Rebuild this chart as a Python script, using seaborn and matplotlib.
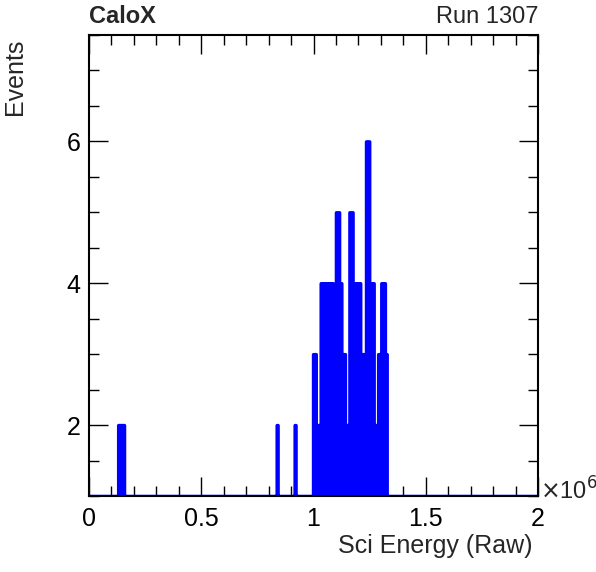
import numpy as np
import pandas as pd
import matplotlib
matplotlib.use("Agg")
import matplotlib.pyplot as plt
from matplotlib.ticker import MultipleLocator
import seaborn as sns

# Occupied regions: (E start, E end) in units of 1e6, counts
seg_start = [0.130, 0.836, 0.917, 0.999, 1.011, 1.032, 1.100, 1.115, 1.128, 1.140, 1.159, 1.174, 1.182, 1.207, 1.234, 1.247, 1.255, 1.269, 1.289, 1.302, 1.318]
seg_end   = [0.156, 0.840, 0.920, 1.011, 1.032, 1.088, 1.115, 1.126, 1.140, 1.159, 1.174, 1.182, 1.207, 1.234, 1.247, 1.255, 1.269, 1.289, 1.302, 1.318, 1.326]
seg_count = [2, 2, 2, 3, 2, 4, 5, 4, 3, 2, 5, 2, 4, 3, 6, 3, 4, 2, 3, 4, 3]
gap_one   = [1.088, 1.126, 1.180]   # single-count bins inside the cluster

nbins = 1000
edges = np.linspace(0, 2.0, nbins + 1)
centres = (edges[:-1] + edges[1:]) / 2
counts = np.ones(nbins)
for s, e, c in zip(seg_start, seg_end, seg_count):
    counts[(centres >= s) & (centres < e)] = c
for g in gap_one:
    counts[np.argmin(abs(centres - g))] = 1

df = pd.DataFrame({"E": centres * 1e6, "w": counts})

sns.set_style("white")
plt.rcParams['font.family'] = ['Liberation Sans', 'DejaVu Sans']
fig = plt.figure(figsize=(5.96, 5.72), dpi=100)
ax = fig.add_axes([89/596, 76/572, 449/596, 461/572])
sns.histplot(data=df, x="E", weights="w", bins=nbins, binrange=(0, 2e6),
             element="step", fill=True, alpha=1.0, color="#0000ff",
             edgecolor="#0000ff", linewidth=2.5, ax=ax)
ax.set_xlim(0, 2e6)
ax.set_ylim(1, 7.5)
ax.xaxis.set_major_locator(MultipleLocator(0.5e6))
ax.xaxis.set_minor_locator(MultipleLocator(0.1e6))
ax.yaxis.set_major_locator(MultipleLocator(2))
ax.yaxis.set_minor_locator(MultipleLocator(0.5))
ax.set_xticks([0, 0.5e6, 1e6, 1.5e6, 2e6])
ax.set_xticklabels(["0", "0.5", "1", "1.5", "2"])
ax.tick_params(which="both", direction="in", top=True, right=True, bottom=True, left=True,
               labelsize=18, width=1, colors="black")
ax.tick_params(which="major", length=14)
ax.tick_params(which="minor", length=7)
ax.tick_params(axis="x", pad=8)
ax.tick_params(axis="y", pad=6)
for sp in ax.spines.values():
    sp.set_color("black"); sp.set_linewidth(1.5)
ax.set_xlabel("")
ax.set_ylabel("")
fig.text(532/596, 14/572, "Sci Energy (Raw)", ha="right", va="bottom", fontsize=18)
fig.text(3/596, 457/572, "Events", ha="left", va="bottom", rotation=90, fontsize=18)
fig.text(89/596, 544/572, "CaloX", ha="left", va="bottom", fontsize=17, fontweight="bold")
fig.text(538/596, 544/572, "Run 1307", ha="right", va="bottom", fontsize=17)
fig.text(540/596, 81/572, r"$\times$10$^{6}$", ha="left", va="center", fontsize=17)
fig.savefig("out.png", dpi=100)
